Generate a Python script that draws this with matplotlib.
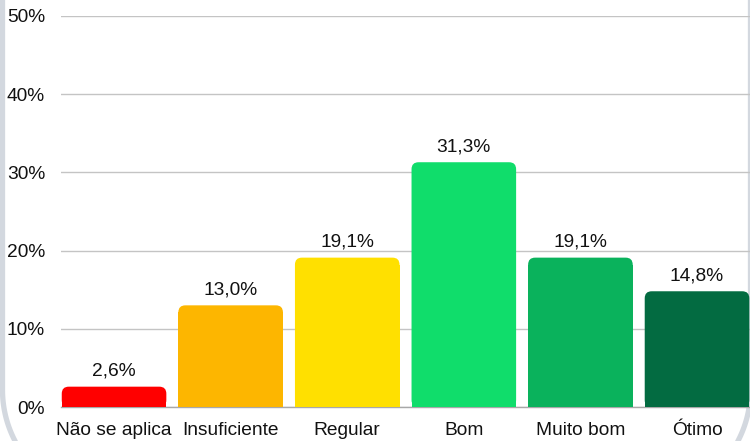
import matplotlib
matplotlib.use("Agg")
import numpy as np
import matplotlib.pyplot as plt
from matplotlib.patches import FancyBboxPatch, Rectangle

categories = ["Não se aplica", "Insuficiente", "Regular", "Bom", "Muito bom", "Ótimo"]
values = [2.6, 13.0, 19.1, 31.3, 19.1, 14.8]
value_labels = ["2,6%", "13,0%", "19,1%", "31,3%", "19,1%", "14,8%"]
yticks = [0, 10, 20, 30, 40, 50]
ytick_labels = ["0%", "10%", "20%", "30%", "40%", "50%"]
colors = ["#FF0000", "#FDB600", "#FFE000", "#10DD6B", "#0AB25C", "#036B41"]

plt.rcParams["font.family"] = ["Liberation Sans", "DejaVu Sans"]
FS = 13.8

fig = plt.figure(figsize=(7.5, 4.41), dpi=100)
fig.patch.set_facecolor("white")

# background axes in pixel units for the panel frame (decoration)
bg = fig.add_axes([0, 0, 1, 1], zorder=0)
bg.set_xlim(0, 750)
bg.set_ylim(0, 441)
bg.axis("off")
R = 110.0
left_x, right_x, bottom_y = 2.5, 750.5, -59.0
t1 = np.linspace(np.pi, 1.5 * np.pi, 60)
t2 = np.linspace(1.5 * np.pi, 2 * np.pi, 60)
fx = np.concatenate([[left_x], left_x + R + R * np.cos(t1),
                     right_x - R + R * np.cos(t2), [right_x]])
fy = np.concatenate([[500.0], bottom_y + R + R * np.sin(t1),
                     bottom_y + R + R * np.sin(t2), [500.0]])
bg.plot(fx, fy, color="#D3D8DF", linewidth=3.8, solid_capstyle="butt")

ax = fig.add_axes([61 / 750, 34 / 441, 689 / 750, 391 / 441], zorder=1)
ax.set_facecolor("none")
ax.set_xlim(-0.455, 5.4545)
ax.set_ylim(0, 50)

bars = ax.bar(range(len(categories)), values, width=0.897, color=colors, zorder=3)

# rounded top corners
px_per_x = 689 / (5.4545 + 0.455)
px_per_y = 391 / 50
asp = px_per_x / px_per_y
r = 7 / px_per_x
for b, c in zip(bars, colors):
    b.set_visible(False)
    x, w, h = b.get_x(), b.get_width(), b.get_height()
    ax.add_patch(FancyBboxPatch((x, 0), w, h,
                                boxstyle=f"round,pad=0,rounding_size={r}",
                                mutation_aspect=asp, facecolor=c,
                                edgecolor="none", zorder=3))
    ax.add_patch(Rectangle((x, 0), w, max(h - r * asp, 0),
                           facecolor=c, edgecolor="none", zorder=3))

for i, (v, lab) in enumerate(zip(values, value_labels)):
    ax.annotate(lab, (i, v), xytext=(0, 5), textcoords="offset points",
                ha="center", va="bottom", fontsize=FS, color="#111111")

ax.set_yticks(yticks)
ax.set_yticklabels(ytick_labels, fontsize=FS, color="#111111")
ax.set_xticks(range(len(categories)))
ax.set_xticklabels(categories, fontsize=FS, color="#111111")
ax.tick_params(axis="y", length=0, pad=11.5)
ax.tick_params(axis="x", length=0, pad=10.5)
ax.yaxis.grid(True, color="#C4C4C4", linewidth=1.0, zorder=0)
ax.set_axisbelow(True)
for s in ["left", "right", "top"]:
    ax.spines[s].set_visible(False)
ax.spines["bottom"].set_color("#A8A8A8")
ax.spines["bottom"].set_linewidth(1.0)

fig.savefig("out.png", dpi=100, facecolor="white")
